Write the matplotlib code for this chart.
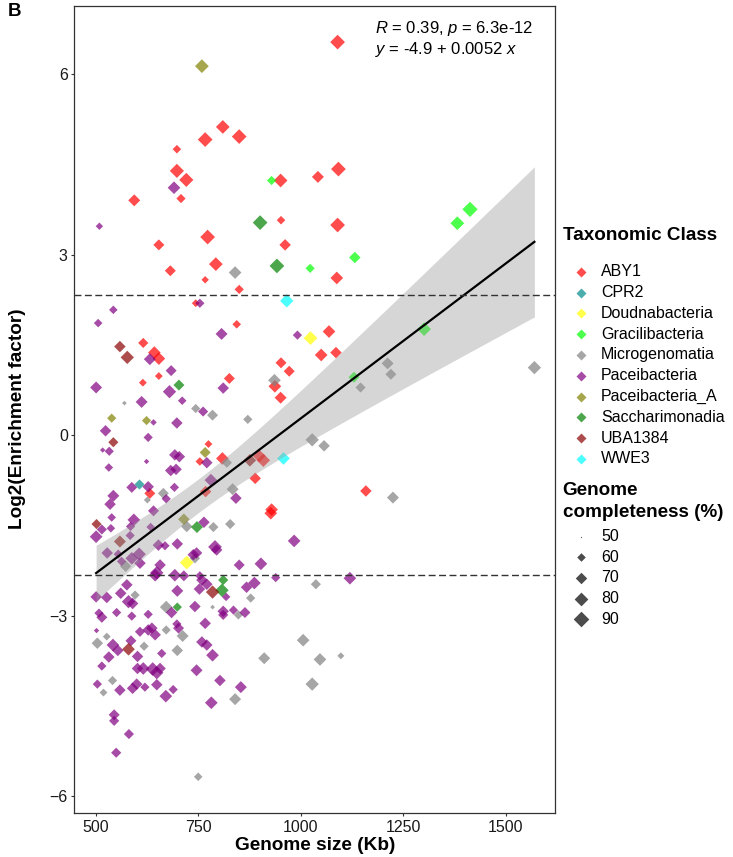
import numpy as np
import matplotlib
matplotlib.use("Agg")
import matplotlib.pyplot as plt

plt.rcParams['font.family'] = ['Liberation Sans', 'DejaVu Sans']
plt.rcParams['mathtext.fontset'] = 'custom'
plt.rcParams['mathtext.rm'] = 'Liberation Sans'
plt.rcParams['mathtext.it'] = 'Liberation Sans:italic'

# points: (genome size kb, log2 enrichment, completeness %)
aby1 = [(810, 5.12, 80), (767, 4.91, 85), (850, 4.96, 85), (698, 4.75, 60), (698, 4.39, 82),
        (721, 4.24, 82), (708, 3.93, 62), (594, 3.90, 72), (951, 4.23, 80), (952, 3.57, 60),
        (773, 3.29, 85), (654, 3.16, 68), (962, 3.16, 70), (793, 2.84, 80), (682, 2.73, 68),
        (767, 2.58, 57), (850, 2.42, 62), (1090, 6.53, 85), (1042, 4.29, 72), (1092, 4.42, 85),
        (1090, 3.49, 85), (1088, 2.61, 75), (744, 2.19, 58), (844, 1.84, 60), (616, 1.53, 65),
        (643, 1.37, 75), (654, 1.27, 75), (654, 0.98, 58), (952, 1.20, 68), (972, 1.06, 68),
        (826, 0.94, 68), (615, 0.87, 58), (937, 0.81, 75), (951, 0.62, 72), (775, -0.15, 58),
        (754, -0.44, 60), (809, -0.39, 75), (899, -0.35, 75), (909, -0.42, 78), (889, -0.72, 70),
        (632, -0.97, 68), (768, -0.94, 70), (929, -1.24, 75), (927, -1.30, 75), (1069, 1.72, 75),
        (1050, 1.33, 75), (1086, 1.37, 70), (1159, -0.93, 70)]
cpr2 = [(606, -0.81, 65)]
doudna = [(1024, 1.61, 80), (722, -2.12, 80)]
gracili = [(929, 4.23, 62), (1023, 2.77, 62), (1382, 3.52, 80), (1413, 3.75, 88),
           (1132, 2.95, 70), (1301, 1.76, 80), (1130, 0.96, 68)]
microgen = [(840, 2.70, 75), (936, 0.91, 75), (570, 0.53, 52), (744, 0.44, 62), (785, 0.33, 68),
            (871, 0.26, 62), (820, -0.46, 65), (665, -0.97, 68), (834, -0.90, 72), (626, -1.08, 56),
            (722, -1.52, 70), (787, -1.53, 65), (828, -1.48, 65), (573, -2.18, 70), (1212, 1.19, 72),
            (1220, 1.01, 68), (1146, 0.79, 65), (1570, 1.12, 78), (1028, -0.08, 78), (1057, -0.18, 70),
            (1225, -1.04, 72), (1037, -2.48, 65), (1006, -3.41, 75), (1047, -3.73, 75), (1098, -3.67, 56),
            (1028, -4.14, 78), (911, -3.71, 72), (878, -2.71, 62), (848, -2.99, 62), (785, -2.86, 52),
            (596, -2.66, 62), (672, -2.86, 75), (672, -3.24, 62), (712, -3.34, 72), (527, -3.35, 58),
            (618, -3.51, 62), (504, -3.46, 70), (699, -3.58, 70), (840, -4.39, 72), (750, -5.68, 60),
            (541, -4.08, 62), (519, -4.28, 58), (742, -2.05, 65)]
pacei = [(691, 4.11, 75), (509, 3.47, 57), (754, 2.19, 62), (543, 2.08, 60), (506, 1.86, 60),
         (807, 1.68, 72), (992, 1.66, 62), (632, 1.26, 72), (684, 1.07, 68), (501, 0.79, 72),
         (811, 0.78, 70), (680, 0.72, 78), (711, 0.57, 60), (612, 0.55, 72), (762, 0.39, 65),
         (641, 0.21, 55), (698, 0.20, 70), (524, 0.07, 70), (628, -0.04, 62), (517, -0.25, 53),
         (533, -0.27, 62), (693, -0.33, 70), (704, -0.36, 70), (771, -0.46, 70), (624, -0.44, 53),
         (532, -0.54, 60), (683, -0.59, 70), (696, -0.57, 70), (781, -0.75, 75), (588, -0.87, 68),
         (628, -0.86, 70), (692, -0.87, 62), (543, -1.01, 72), (672, -1.06, 62), (842, -1.05, 70),
         (535, -1.15, 70), (641, -1.26, 68), (539, -1.37, 60), (593, -1.41, 75), (515, -1.57, 65),
         (537, -1.55, 60), (585, -1.52, 62), (634, -1.53, 60), (764, -1.45, 70), (501, -1.69, 75),
         (584, -1.67, 62), (984, -1.76, 75), (528, -1.96, 70), (555, -1.98, 62), (606, -1.98, 78),
         (588, -2.05, 75), (653, -1.83, 70), (669, -1.84, 62), (699, -1.81, 70), (791, -1.86, 80),
         (795, -1.91, 70), (738, -1.99, 70), (746, -1.96, 70), (850, -2.16, 68), (903, -2.14, 75),
         (563, -2.10, 62), (1120, -2.38, 75), (939, -2.37, 62), (887, -2.46, 75), (868, -2.53, 70),
         (836, -2.91, 62), (864, -2.95, 68), (811, -2.93, 70), (811, -2.99, 65), (818, -2.69, 60),
         (767, -3.13, 70), (742, -2.85, 70), (753, -2.56, 70), (771, -2.48, 70), (754, -2.34, 62),
         (715, -2.34, 68), (693, -2.33, 75), (699, -2.59, 72), (649, -2.29, 78), (645, -2.33, 75),
         (657, -2.16, 70), (608, -2.13, 70), (576, -2.49, 70), (561, -2.63, 70), (527, -2.70, 70),
         (501, -2.69, 70), (580, -2.77, 78), (590, -2.80, 70), (508, -2.96, 62), (515, -3.03, 68),
         (551, -2.95, 62), (588, -3.01, 62), (628, -2.98, 62), (685, -2.95, 70), (702, -3.21, 68),
         (698, -3.14, 62), (502, -3.25, 53), (608, -3.27, 65), (628, -3.24, 70), (637, -3.21, 70),
         (645, -3.32, 70), (586, -3.42, 68), (542, -3.49, 75), (554, -3.58, 70), (532, -3.69, 70),
         (602, -3.68, 70), (661, -3.63, 62), (602, -3.88, 70), (616, -3.88, 75), (639, -3.89, 80),
         (649, -3.95, 78), (657, -3.88, 70), (515, -3.84, 62), (746, -3.91, 72), (785, -3.66, 75),
         (759, -3.44, 70), (771, -3.49, 70), (803, -4.08, 70), (854, -4.19, 72), (782, -4.45, 75),
         (689, -4.23, 62), (671, -4.34, 75), (649, -4.15, 70), (620, -4.19, 62), (600, -4.14, 70),
         (590, -4.21, 70), (559, -4.24, 70), (504, -4.14, 62), (545, -4.65, 68), (545, -4.75, 65),
         (581, -4.97, 65), (550, -5.28, 65), (759, -2.41, 70)]
pacei_a = [(759, 6.13, 80), (539, 0.28, 62), (624, 0.24, 62), (767, -0.29, 68), (715, -1.40, 70)]
saccharo = [(901, 3.53, 85), (942, 2.81, 85), (703, 0.83, 68), (747, -1.53, 72), (811, -2.41, 65),
            (808, -2.58, 78), (699, -2.86, 62)]
uba1384 = [(559, 1.47, 70), (577, 1.29, 78), (543, -0.12, 65), (876, -0.42, 75), (502, -1.48, 65),
           (559, -1.77, 72), (785, -2.61, 78), (580, -3.56, 75)]
wwe3 = [(966, 2.23, 78), (958, -0.39, 75)]

class_names = ['ABY1', 'CPR2', 'Doudnabacteria', 'Gracilibacteria', 'Microgenomatia',
               'Paceibacteria', 'Paceibacteria_A', 'Saccharimonadia', 'UBA1384', 'WWE3']
class_points = [aby1, cpr2, doudna, gracili, microgen, pacei, pacei_a, saccharo, uba1384, wwe3]
class_colors = ['#FF0000', '#008B8B', '#FFFF00', '#00FF00', '#808080',
                '#800080', '#808000', '#008000', '#8B0000', '#00FFFF']
size_breaks = [50, 60, 70, 80, 90]

# fitted line as drawn in the figure
fit_intercept = -4.875
fit_slope = 0.00515
cutoff = np.log2(5)


def msize(c):
    # diamond width in px -> scatter size (pt^2)
    c = np.asarray(c, dtype=float)
    w = 1.5 + 14.5 * np.sqrt(np.clip((c - 50) / 42, 0, None))
    return (w / 1.964) ** 2


W, H = 733, 857
fig = plt.figure(figsize=(W / 100, H / 100), dpi=100)
L, R, T, B = 74.3, 555.3, 5.7, 813.3
ax = fig.add_axes([L / W, 1 - B / H, (R - L) / W, (B - T) / H])

for pts, col in zip(class_points, class_colors):
    a = np.array(pts, dtype=float)
    ax.scatter(a[:, 0], a[:, 1], s=msize(a[:, 2]), marker='D', color=col,
               alpha=0.7, linewidths=0, zorder=2)

# regression line + 95% CI
allp = np.vstack([np.array(p, dtype=float) for p in class_points])
x, y = allp[:, 0], allp[:, 1]
n = len(x)
res = y - (fit_intercept + fit_slope * x)
s = np.sqrt(np.sum(res ** 2) / (n - 2))
xbar = x.mean()
sxx = np.sum((x - xbar) ** 2)
xg = np.linspace(x.min(), x.max(), 100)
yg = fit_intercept + fit_slope * xg
se = s * np.sqrt(1 / n + (xg - xbar) ** 2 / sxx)
ax.fill_between(xg, yg - 1.9 * se, yg + 1.9 * se, color='#999999', alpha=0.4,
                linewidth=0, zorder=3)
ax.plot(xg, yg, color='black', lw=1.6, zorder=4)

for yy in (cutoff, -cutoff):
    ax.axhline(yy, color='#333333', lw=1.0, dashes=(5, 2.5), zorder=5)

ax.text(1181, 6.76, r'$R$ = 0.39, $p$ = 6.3e-12', fontsize=12, ha='left', va='center')
ax.text(1181, 6.41, r'$y$ = -4.9 + 0.0052 $x$', fontsize=12, ha='left', va='center')

ax.set_xlim(447.8, 1621)
ax.set_ylim(-6.287, 7.135)
ax.set_xticks([500, 750, 1000, 1250, 1500])
ax.set_yticks([-6, -3, 0, 3, 6])
ax.tick_params(length=2.2, width=0.8, color='#333333', labelsize=11.5,
               labelcolor='#1a1a1a', pad=2.5)
for sp in ax.spines.values():
    sp.set_color('#333333')
    sp.set_linewidth(0.9)

ax.set_xlabel('Genome size (Kb)', fontsize=13.7, fontweight='bold')
ax.xaxis.set_label_coords(0.5, (B - 846) / (B - T))
ax.xaxis.label.set_va('center')
ax.set_ylabel('Log2(Enrichment factor)', fontsize=13.7, fontweight='bold')
ax.yaxis.set_label_coords((18 - L) / (R - L), (B - 419) / (B - T))
ax.yaxis.label.set_va('center')

fig.text(8 / W, 1 - 12 / H, 'B', fontsize=13.5, fontweight='bold', ha='left', va='center')

# legends on an overlay in pixel coordinates
lax = fig.add_axes([0, 0, 1, 1])
lax.set_xlim(0, W)
lax.set_ylim(H, 0)
lax.axis('off')
lax.patch.set_visible(False)

lax.text(562.7, 235, 'Taxonomic Class', fontsize=13.6, fontweight='bold', ha='left', va='center')
for i, (name, col) in enumerate(zip(class_names, class_colors)):
    yy = 271.7 + i * 20.8
    lax.scatter([581], [yy], s=(10 / 1.964) ** 2, marker='D', color=col, alpha=0.7, linewidths=0)
    lax.text(601, yy, name, fontsize=11.5, ha='left', va='center')

lax.text(562.7, 490, 'Genome', fontsize=13.6, fontweight='bold', ha='left', va='center')
lax.text(562.7, 512.7, 'completeness (%)', fontsize=13.6, fontweight='bold', ha='left', va='center')
for i, c in enumerate(size_breaks):
    yy = 536.7 + i * 20.65
    lax.scatter([581], [yy], s=msize(c), marker='D', color='black', alpha=0.7, linewidths=0)
    lax.text(601, yy, str(c), fontsize=11.5, ha='left', va='center')

fig.savefig('out.png', dpi=100)
